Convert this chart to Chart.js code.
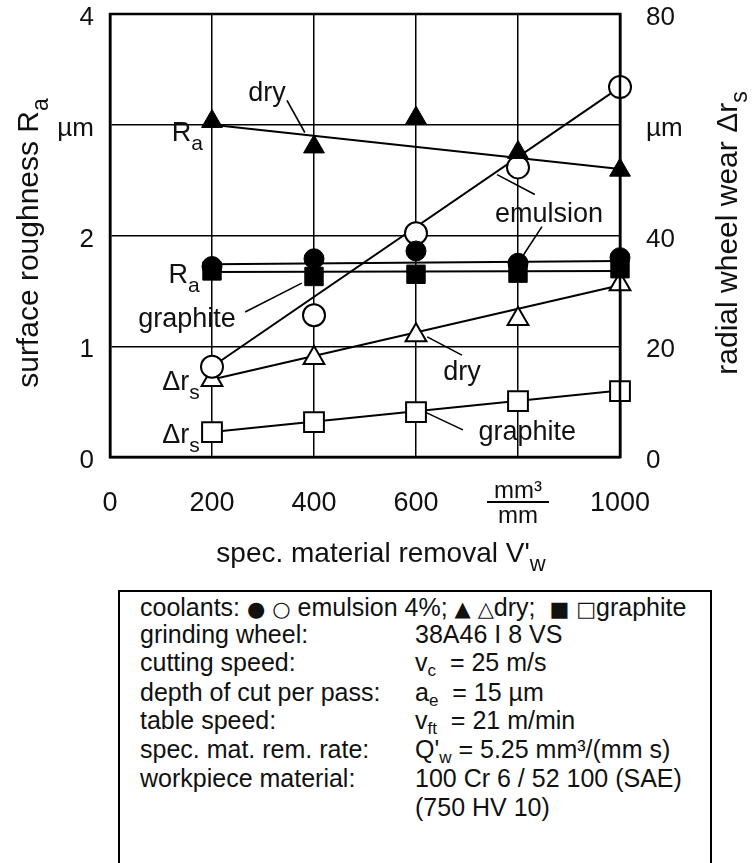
<!DOCTYPE html>
<html>
<head>
<meta charset="utf-8">
<script src="https://cdn.jsdelivr.net/npm/chart.js@4.4.0/dist/chart.umd.min.js"></script>
<style>
  html, body { margin: 0; padding: 0; background: #fff; overflow: hidden; }
  #wrap { position: relative; width: 752px; height: 863px; }
  #chart { position: absolute; left: 0; top: 0; }
  #info {
    position: absolute; left: 118px; top: 590px; width: 594px; height: 320px;
    border: 2px solid #000; box-sizing: border-box;
    font-family: "Liberation Sans", Arial, sans-serif; font-size: 25px; color: #111;
  }
  #info .row { position: absolute; left: 20px; white-space: nowrap; line-height: 26px; }
  #info .val { position: absolute; left: 295px; white-space: nowrap; line-height: 26px; }
  #info .sym { font-family: "DejaVu Sans", sans-serif; font-size: 21px; }
  #info sub { font-size: 17px; vertical-align: -5px; line-height: 0; }
</style>
</head>
<body>
<div id="wrap">
  <canvas id="chart" width="752" height="590"></canvas>
  <div id="info">
    <div class="row" style="top:2px">coolants: <span class="sym">●</span> <span class="sym">○</span> emulsion 4%; <span class="sym">▲</span> <span class="sym">△</span>dry; &nbsp;<span class="sym">■</span> <span class="sym">□</span>graphite</div>
    <div class="row" style="top:29px">grinding wheel:</div>
    <div class="val" style="top:29px">38A46 I 8 VS</div>
    <div class="row" style="top:57px">cutting speed:</div>
    <div class="val" style="top:57px">v<sub>c</sub> &nbsp;= 25 m/s</div>
    <div class="row" style="top:87px">depth of cut per pass:</div>
    <div class="val" style="top:87px">a<sub>e</sub> &nbsp;= 15 µm</div>
    <div class="row" style="top:115px">table speed:</div>
    <div class="val" style="top:115px">v<sub>ft</sub> &nbsp;= 21 m/min</div>
    <div class="row" style="top:144px">spec. mat. rem. rate:</div>
    <div class="val" style="top:144px">Q'<sub>w</sub> = 5.25 mm³/(mm s)</div>
    <div class="row" style="top:173px">workpiece material:</div>
    <div class="val" style="top:173px">100 Cr 6 / 52 100 (SAE)</div>
    <div class="val" style="top:202px">(750 HV 10)</div>
  </div>
</div>
<script>
// spec. material removal V'w in mm³/mm
const removal = [200, 400, 600, 800, 1000];

// surface roughness Ra in µm (left axis)
const raEmulsion = [1.72, 1.79, 1.86, 1.75, 1.80];
const raGraphite = [1.68, 1.63, 1.65, 1.66, 1.70];
const raDry = [3.03, 2.80, 3.06, 2.75, 2.59];

// radial wheel wear Δrs in µm (right axis)
const wearEmulsion = [16.3, 25.6, 40.4, 52.3, 66.8];
const wearDry = [13.9, 17.9, 22.0, 24.9, 31.2];
const wearGraphite = [4.5, 6.3, 8.1, 10.1, 11.9];

// fitted straight lines, value at start and end of fitX
const fitX = [200, 1000];
const fitRaDry = [3.0, 2.6];
const fitRaEmulsion = [1.74, 1.77];
const fitRaGraphite = [1.67, 1.68];
const fitWearEmulsion = [16.3, 66.8];
const fitWearDry = [14.0, 31.0];
const fitWearGraphite = [4.5, 12.0];

// tick labels
const xTickLabels = ['0', '200', '400', '600', '', '1000'];
const raTickLabels = ['0', '1', '2', 'µm', '4'];
const wearTickLabels = ['0', '20', '40', 'µm', '80'];

// labels written into the plot, in data units
const notes = [
  { axis: 'yL', x: 308, y: 3.21, text: 'dry', align: 'center' },
  { axis: 'yL', x: 182, y: 2.85, text: 'R', sub: 'a', align: 'right' },
  { axis: 'yL', x: 861, y: 2.12, text: 'emulsion', align: 'center' },
  { axis: 'yL', x: 176, y: 1.57, text: 'R', sub: 'a', align: 'right' },
  { axis: 'yL', x: 151, y: 1.17, text: 'graphite', align: 'center' },
  { axis: 'yR', x: 176, y: 12.1, text: 'Δr', sub: 's', align: 'right' },
  { axis: 'yR', x: 176, y: 2.5, text: 'Δr', sub: 's', align: 'right' },
  { axis: 'yR', x: 690, y: 13.9, text: 'dry', align: 'center' },
  { axis: 'yR', x: 818, y: 3.1, text: 'graphite', align: 'center' }
];
const leaders = [
  { axis: 'yL', x1: 347, y1: 3.22, x2: 382, y2: 2.93 },
  { axis: 'yL', x1: 759, y1: 2.55, x2: 833, y2: 2.37 },
  { axis: 'yL', x1: 847, y1: 2.08, x2: 800, y2: 1.75 },
  { axis: 'yL', x1: 265, y1: 1.31, x2: 376, y2: 1.57 },
  { axis: 'yR', x1: 622, y1: 21.7, x2: 690, y2: 18.4 },
  { axis: 'yR', x1: 618, y1: 8.1, x2: 692, y2: 4.9 }
];

const FONT = '"Liberation Sans", Arial, sans-serif';
const pts = (ys) => removal.map((x, i) => ({ x: x, y: ys[i] }));
const fit = (ys) => fitX.map((x, i) => ({ x: x, y: ys[i] }));

function markers(ys, axis, style, radius, filled) {
  return {
    data: pts(ys), yAxisID: axis, showLine: false, order: 1, clip: false,
    pointStyle: style, pointRadius: radius, pointHoverRadius: radius,
    backgroundColor: filled ? '#000' : '#fff', borderColor: '#000',
    borderWidth: filled ? 1 : 2
  };
}
function fitLine(ys, axis) {
  return {
    data: fit(ys), yAxisID: axis, showLine: true, order: 2, clip: false,
    borderColor: '#000', borderWidth: 2, pointRadius: 0, fill: false
  };
}

function drawSub(ctx, main, sub, x, y, align, size) {
  ctx.font = size + 'px ' + FONT;
  const wMain = ctx.measureText(main).width;
  const subSize = Math.round(size * 0.78);
  ctx.font = subSize + 'px ' + FONT;
  const wSub = sub ? ctx.measureText(sub).width : 0;
  const w = wMain + wSub;
  let x0 = x;
  if (align === 'center') x0 = x - w / 2;
  if (align === 'right') x0 = x - w;
  ctx.textAlign = 'left';
  ctx.textBaseline = 'alphabetic';
  ctx.font = size + 'px ' + FONT;
  ctx.fillText(main, x0, y);
  if (sub) {
    ctx.font = subSize + 'px ' + FONT;
    ctx.fillText(sub, x0 + wMain, y + size * 0.32);
  }
}

const annotate = {
  id: 'annotate',
  afterDatasetsDraw(chart) {
    const { ctx, chartArea: a, scales } = chart;
    const sx = scales.x;
    ctx.save();
    ctx.strokeStyle = '#000';
    ctx.lineWidth = 2.5;
    ctx.strokeRect(a.left, a.top, a.right - a.left, a.bottom - a.top);

    ctx.lineWidth = 1.6;
    leaders.forEach(l => {
      const sy = scales[l.axis];
      ctx.beginPath();
      ctx.moveTo(sx.getPixelForValue(l.x1), sy.getPixelForValue(l.y1));
      ctx.lineTo(sx.getPixelForValue(l.x2), sy.getPixelForValue(l.y2));
      ctx.stroke();
    });

    ctx.fillStyle = '#111';
    notes.forEach(n => {
      drawSub(ctx, n.text, n.sub, sx.getPixelForValue(n.x), scales[n.axis].getPixelForValue(n.y), n.align, 27);
    });

    // unit of the x axis, written as a fraction in place of the 800 label
    const fx = sx.getPixelForValue(800);
    ctx.textAlign = 'center';
    ctx.font = '24px ' + FONT;
    ctx.fillText('mm³', fx, 498);
    ctx.fillText('mm', fx, 523);
    ctx.lineWidth = 2;
    ctx.beginPath();
    ctx.moveTo(fx - 31, 502);
    ctx.lineTo(fx + 31, 502);
    ctx.stroke();

    // axis titles
    drawSub(ctx, "spec. material removal V'", 'w', 381, 562, 'center', 28);
    ctx.save();
    ctx.translate(38, 243);
    ctx.rotate(-Math.PI / 2);
    drawSub(ctx, 'surface roughness R', 'a', 0, 0, 'center', 30);
    ctx.restore();
    ctx.save();
    ctx.translate(737, 233);
    ctx.rotate(-Math.PI / 2);
    drawSub(ctx, 'radial wheel wear Δr', 's', 0, 0, 'center', 30);
    ctx.restore();
    ctx.restore();
  }
};

// keep the plot frame where the figure has it: no extra room for tick labels
const fixY = (w) => (s) => { s.width = w; s.paddingTop = 0; s.paddingBottom = 0; };

new Chart(document.getElementById('chart'), {
  type: 'scatter',
  data: {
    datasets: [
      markers(raEmulsion, 'yL', 'circle', 10, true),
      markers(raGraphite, 'yL', 'rect', 13, true),
      markers(raDry, 'yL', 'triangle', 12, true),
      markers(wearEmulsion, 'yR', 'circle', 11, false),
      markers(wearDry, 'yR', 'triangle', 12, false),
      markers(wearGraphite, 'yR', 'rect', 14, false),
      fitLine(fitRaDry, 'yL'),
      fitLine(fitRaEmulsion, 'yL'),
      fitLine(fitRaGraphite, 'yL'),
      fitLine(fitWearEmulsion, 'yR'),
      fitLine(fitWearDry, 'yR'),
      fitLine(fitWearGraphite, 'yR')
    ]
  },
  options: {
    responsive: false,
    animation: false,
    layout: { autoPadding: false, padding: { top: 14, left: 0, right: 0, bottom: 0 } },
    plugins: { legend: { display: false }, tooltip: { enabled: false } },
    scales: {
      x: {
        type: 'linear', min: 0, max: 1000,
        afterFit: (s) => { s.height = 133; s.paddingLeft = 0; s.paddingRight = 0; },
        ticks: {
          stepSize: 200, padding: 30, color: '#111',
          font: { family: FONT, size: 27 },
          callback: (v, i) => xTickLabels[i]
        },
        grid: { color: '#000', lineWidth: 1.5, drawTicks: false },
        border: { color: '#000', width: 2.5 }
      },
      yL: {
        type: 'linear', position: 'left', min: 0, max: 4,
        afterFit: fixY(110),
        ticks: {
          stepSize: 1, padding: 16, color: '#111', labelOffset: 4,
          font: { family: FONT, size: 26 },
          callback: (v, i) => raTickLabels[i]
        },
        grid: { color: '#000', lineWidth: 1.5, drawTicks: false },
        border: { color: '#000', width: 2.5 }
      },
      yR: {
        type: 'linear', position: 'right', min: 0, max: 80,
        afterFit: fixY(132),
        ticks: {
          stepSize: 20, padding: 26, color: '#111', labelOffset: 4,
          font: { family: FONT, size: 26 },
          callback: (v, i) => wearTickLabels[i]
        },
        grid: { display: false, drawTicks: false },
        border: { color: '#000', width: 2.5 }
      }
    }
  },
  plugins: [annotate]
});
</script>
</body>
</html>
